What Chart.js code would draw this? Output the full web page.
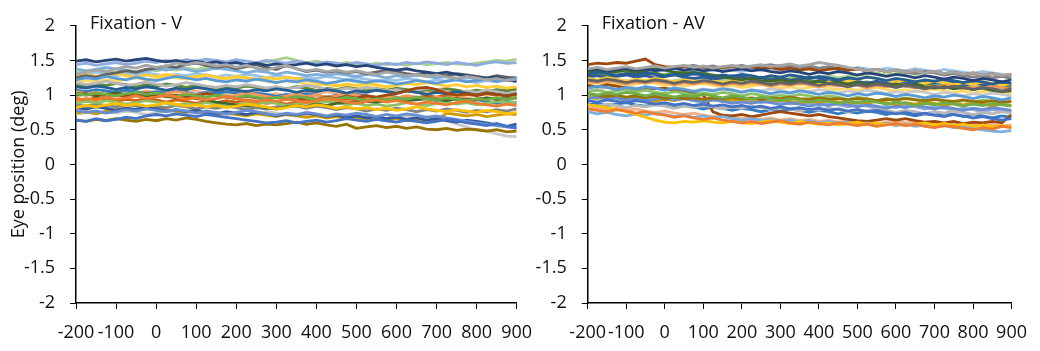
<!DOCTYPE html>
<html>
<head>
<meta charset="utf-8">
<script src="https://cdn.jsdelivr.net/npm/chart.js@4.4.1/dist/chart.umd.min.js"></script>
<style>
  html, body { margin: 0; padding: 0; background: #fff; }
  #wrap { position: relative; width: 1040px; height: 351px; overflow: hidden; }
  .box { position: absolute; top: 0; height: 351px; }
  #boxV { left: 0; width: 560px; }
  #boxAV { left: 510px; width: 530px; }
</style>
</head>
<body>
<div id="wrap">
  <div class="box" id="boxV"><canvas id="chartV"></canvas></div>
  <div class="box" id="boxAV"><canvas id="chartAV"></canvas></div>
</div>
<script>
// time axis (ms), one sample every 25 ms
const times = [-200,-175,-150,-125,-100,-75,-50,-25,0,25,50,75,100,125,150,175,200,225,250,275,300,325,350,375,400,425,450,475,500,525,550,575,600,625,650,675,700,725,750,775,800,825,850,875,900];
const xTicks = [-200,-100,0,100,200,300,400,500,600,700,800,900];
const yTicks = [-2,-1.5,-1,-0.5,0,0.5,1,1.5,2];

// Fixation - V traces (deg)
const v1 = [0.64,0.62,0.66,0.63,0.65,0.68,0.66,0.70,0.72,0.70,0.73,0.71,0.69,0.72,0.70,0.68,0.66,0.64,0.62,0.60,0.61,0.63,0.60,0.62,0.64,0.61,0.63,0.66,0.64,0.62,0.65,0.63,0.61,0.64,0.62,0.60,0.62,0.65,0.63,0.60,0.58,0.56,0.59,0.55,0.53];
const v2 = [0.92,0.95,0.93,0.97,0.94,0.96,0.99,0.95,0.97,1.00,0.97,0.94,0.96,0.93,0.95,0.98,0.95,0.92,0.90,0.93,0.91,0.94,0.92,0.89,0.92,0.95,0.93,0.90,0.88,0.91,0.93,0.90,0.92,0.89,0.87,0.90,0.88,0.86,0.89,0.91,0.88,0.86,0.84,0.87,0.85];
const v3 = [1.30,1.33,1.36,1.34,1.38,1.41,1.39,1.43,1.40,1.42,1.46,1.44,1.47,1.45,1.42,1.44,1.40,1.43,1.39,1.36,1.40,1.43,1.38,1.35,1.37,1.34,1.36,1.33,1.35,1.32,1.30,1.33,1.31,1.28,1.30,1.27,1.29,1.26,1.24,1.27,1.25,1.22,1.24,1.21,1.23];
const v4 = [0.82,0.85,0.83,0.86,0.88,0.85,0.87,0.84,0.86,0.89,0.87,0.84,0.86,0.83,0.85,0.82,0.84,0.87,0.85,0.83,0.80,0.82,0.85,0.83,0.86,0.84,0.81,0.83,0.80,0.82,0.79,0.81,0.78,0.80,0.83,0.80,0.78,0.76,0.79,0.77,0.75,0.78,0.76,0.73,0.75];
const v5 = [1.22,1.25,1.23,1.27,1.24,1.22,1.26,1.23,1.21,1.24,1.27,1.25,1.22,1.24,1.21,1.19,1.22,1.20,1.23,1.21,1.18,1.21,1.19,1.22,1.20,1.17,1.19,1.22,1.20,1.18,1.21,1.19,1.16,1.18,1.21,1.19,1.17,1.20,1.22,1.19,1.21,1.23,1.20,1.22,1.24];
const v6 = [1.02,1.00,1.03,1.01,0.99,1.02,1.04,1.01,1.03,1.00,0.98,1.01,0.99,0.97,1.00,0.98,0.96,0.99,0.97,0.94,0.97,0.95,0.98,0.96,0.93,0.96,0.94,0.97,0.95,0.92,0.95,0.93,0.96,0.94,0.97,0.95,0.93,0.96,0.94,0.92,0.95,0.93,0.96,0.94,0.97];
const v7 = [1.49,1.51,1.48,1.50,1.52,1.49,1.51,1.53,1.50,1.48,1.50,1.47,1.49,1.46,1.48,1.45,1.47,1.44,1.46,1.43,1.45,1.42,1.44,1.46,1.43,1.45,1.42,1.44,1.41,1.43,1.40,1.38,1.36,1.38,1.35,1.33,1.31,1.33,1.30,1.28,1.26,1.24,1.26,1.22,1.20];
const v8 = [1.03,1.00,1.02,0.99,1.01,0.98,1.00,1.03,1.01,0.98,1.00,0.97,0.99,1.02,1.00,0.97,0.95,0.98,0.96,0.94,0.97,0.95,0.93,0.96,0.94,0.97,0.95,0.98,0.96,0.99,0.97,1.00,1.02,1.06,1.10,1.11,1.08,1.03,1.00,1.02,1.00,1.03,1.01,0.99,1.01];
const v9 = [1.25,1.28,1.26,1.30,1.32,1.35,1.33,1.37,1.39,1.42,1.40,1.44,1.46,1.43,1.40,1.42,1.38,1.41,1.44,1.40,1.37,1.43,1.38,1.34,1.36,1.33,1.35,1.32,1.34,1.31,1.33,1.36,1.34,1.31,1.29,1.32,1.30,1.28,1.31,1.29,1.27,1.25,1.28,1.26,1.24];
const v10 = [0.64,0.62,0.65,0.63,0.66,0.64,0.62,0.65,0.63,0.66,0.64,0.67,0.65,0.62,0.60,0.58,0.57,0.59,0.56,0.58,0.57,0.59,0.61,0.58,0.60,0.57,0.55,0.58,0.52,0.54,0.56,0.53,0.55,0.52,0.54,0.51,0.50,0.52,0.49,0.51,0.50,0.48,0.50,0.47,0.48];
const v11 = [1.12,1.10,1.13,1.11,1.08,1.11,1.09,1.12,1.10,1.07,1.10,1.08,1.11,1.09,1.06,1.09,1.07,1.05,1.08,1.06,1.09,1.07,1.04,1.07,1.05,1.08,1.06,1.03,1.06,1.04,1.07,1.05,1.03,1.06,1.04,1.01,1.04,1.02,1.05,1.03,1.00,1.03,1.01,0.99,1.02];
const v12 = [1.00,1.02,0.99,1.01,1.03,1.00,1.02,0.99,1.01,0.98,0.96,0.98,0.95,0.93,0.90,0.88,0.86,0.84,0.85,0.82,0.80,0.83,0.85,0.84,0.87,0.85,0.88,0.90,0.89,0.91,0.90,0.92,0.94,0.92,0.93,0.95,0.94,0.92,0.95,0.93,0.94,0.96,0.94,0.95,0.96];
const v13 = [0.78,0.75,0.77,0.74,0.76,0.79,0.77,0.80,0.78,0.76,0.79,0.77,0.74,0.77,0.75,0.73,0.75,0.78,0.76,0.73,0.71,0.74,0.72,0.75,0.73,0.70,0.73,0.71,0.74,0.72,0.69,0.72,0.70,0.73,0.71,0.68,0.70,0.67,0.65,0.62,0.60,0.58,0.56,0.54,0.52];
const v14 = [1.05,1.02,1.04,1.01,0.99,1.02,1.00,0.97,0.99,1.02,1.05,1.03,1.00,1.02,0.99,0.97,1.00,1.03,1.01,0.98,0.96,0.99,1.01,0.98,1.00,0.97,0.99,1.02,1.00,0.97,0.95,0.98,0.96,0.99,0.97,0.94,0.97,0.95,0.98,0.96,0.93,0.96,0.94,0.97,0.95];
const v15 = [1.18,1.15,1.17,1.20,1.17,1.14,1.16,1.19,1.16,1.13,1.15,1.18,1.16,1.13,1.11,1.14,1.12,1.15,1.13,1.10,1.12,1.09,1.11,1.14,1.12,1.09,1.07,1.10,1.08,1.11,1.09,1.06,1.08,1.05,1.07,1.10,1.08,1.05,1.03,1.06,1.04,1.07,1.05,1.02,1.04];
const v16 = [1.28,1.30,1.27,1.29,1.31,1.28,1.26,1.29,1.27,1.30,1.28,1.25,1.27,1.29,1.26,1.24,1.27,1.25,1.22,1.25,1.23,1.26,1.24,1.21,1.18,1.15,1.13,1.16,1.14,1.17,1.15,1.12,1.14,1.17,1.15,1.18,1.16,1.13,1.15,1.12,1.14,1.11,1.13,1.10,1.12];
const v17 = [1.38,1.35,1.37,1.40,1.38,1.36,1.33,1.35,1.38,1.36,1.39,1.37,1.34,1.36,1.39,1.37,1.35,1.32,1.35,1.33,1.30,1.33,1.31,1.28,1.30,1.28,1.31,1.29,1.27,1.30,1.28,1.25,1.28,1.26,1.29,1.27,1.25,1.27,1.24,1.26,1.23,1.25,1.27,1.24,1.26];
const v18 = [0.88,0.91,0.89,0.92,0.90,0.87,0.89,0.92,0.90,0.88,0.85,0.88,0.86,0.89,0.87,0.84,0.86,0.89,0.87,0.90,0.88,0.85,0.87,0.90,0.88,0.91,0.89,0.86,0.88,0.85,0.87,0.84,0.86,0.89,0.87,0.85,0.88,0.90,0.87,0.89,0.86,0.88,0.91,0.89,0.90];
const v19 = [0.82,0.80,0.83,0.81,0.78,0.81,0.79,0.82,0.80,0.77,0.79,0.76,0.78,0.75,0.73,0.76,0.74,0.72,0.75,0.73,0.70,0.73,0.71,0.74,0.72,0.69,0.71,0.68,0.70,0.67,0.69,0.66,0.68,0.65,0.67,0.64,0.66,0.63,0.61,0.64,0.62,0.60,0.57,0.55,0.58];
const v20 = [0.95,0.93,0.96,0.94,0.91,0.94,0.92,0.95,0.93,0.90,0.93,0.91,0.88,0.91,0.89,0.92,0.90,0.93,0.91,0.88,0.90,0.87,0.90,0.93,0.91,0.94,0.92,0.95,0.93,0.96,0.94,0.97,0.95,0.98,0.96,0.99,0.97,1.00,0.98,1.01,0.99,1.02,1.00,1.03,1.01];
const v21 = [0.86,0.84,0.87,0.85,0.83,0.86,0.84,0.81,0.84,0.82,0.85,0.83,0.80,0.83,0.81,0.84,0.82,0.79,0.82,0.80,0.83,0.86,0.84,0.81,0.84,0.82,0.79,0.82,0.80,0.77,0.80,0.78,0.81,0.79,0.76,0.79,0.77,0.80,0.78,0.75,0.78,0.76,0.79,0.77,0.80];
const v22 = [0.74,0.76,0.73,0.77,0.79,0.81,0.78,0.80,0.82,0.79,0.77,0.75,0.77,0.74,0.72,0.74,0.72,0.70,0.73,0.71,0.69,0.72,0.70,0.68,0.70,0.67,0.69,0.66,0.68,0.65,0.67,0.64,0.66,0.63,0.65,0.62,0.64,0.74,0.72,0.70,0.72,0.69,0.71,0.73,0.72];
const v23 = [1.07,1.05,1.08,1.06,1.04,1.07,1.05,1.02,1.05,1.03,1.06,1.04,1.01,1.04,1.02,1.05,1.03,1.00,1.03,1.01,0.98,1.01,0.99,1.02,1.00,0.97,1.00,0.98,1.01,0.99,0.96,0.99,0.97,0.94,0.97,0.95,0.92,0.95,0.93,0.90,0.93,0.91,0.88,0.91,0.89];
const v24 = [1.15,1.13,1.16,1.14,1.17,1.15,1.12,1.15,1.13,1.16,1.14,1.11,1.14,1.12,1.09,1.12,1.10,1.13,1.11,1.08,1.11,1.09,1.12,1.10,1.07,1.10,1.08,1.11,1.09,1.06,1.09,1.07,1.10,1.08,1.05,1.08,1.06,1.09,1.07,1.04,1.07,1.05,1.08,1.06,1.09];
const v25 = [1.44,1.46,1.43,1.45,1.47,1.44,1.46,1.49,1.47,1.50,1.48,1.51,1.49,1.52,1.50,1.48,1.51,1.49,1.47,1.50,1.48,1.46,1.49,1.47,1.45,1.48,1.46,1.44,1.47,1.45,1.43,1.46,1.44,1.47,1.45,1.48,1.46,1.44,1.47,1.45,1.43,1.46,1.48,1.46,1.47];
const v26 = [0.98,1.01,0.99,1.02,1.04,1.01,1.03,1.06,1.04,1.07,1.05,1.08,1.06,1.03,1.05,1.02,1.04,1.06,1.03,1.00,1.02,0.99,1.01,1.04,1.02,1.05,1.03,1.00,1.02,1.05,1.08,1.06,1.09,1.07,1.04,1.06,1.08,1.10,1.07,1.05,1.07,1.04,1.06,1.09,1.07];
const v27 = [0.72,0.75,0.73,0.76,0.74,0.77,0.75,0.72,0.74,0.77,0.75,0.78,0.76,0.73,0.75,0.72,0.74,0.71,0.73,0.76,0.74,0.71,0.73,0.70,0.72,0.69,0.71,0.68,0.70,0.67,0.69,0.66,0.68,0.70,0.67,0.69,0.66,0.63,0.58,0.54,0.50,0.48,0.44,0.41,0.40];
const v28 = [1.18,1.21,1.19,1.22,1.20,1.23,1.25,1.22,1.24,1.27,1.25,1.23,1.26,1.24,1.21,1.24,1.22,1.25,1.23,1.20,1.18,1.21,1.19,1.16,1.14,1.17,1.15,1.12,1.10,1.13,1.11,1.08,1.06,1.09,1.07,1.04,1.06,1.03,1.05,1.02,1.04,1.01,0.99,1.02,1.00];
const v29 = [1.32,1.30,1.33,1.31,1.28,1.31,1.29,1.32,1.30,1.27,1.30,1.28,1.31,1.29,1.26,1.29,1.27,1.30,1.28,1.25,1.28,1.26,1.23,1.26,1.24,1.27,1.25,1.22,1.25,1.23,1.20,1.23,1.21,1.24,1.22,1.19,1.22,1.20,1.23,1.21,1.18,1.21,1.19,1.22,1.20];
const v30 = [1.36,1.34,1.37,1.35,1.33,1.36,1.34,1.37,1.35,1.38,1.36,1.39,1.37,1.40,1.38,1.41,1.39,1.42,1.45,1.48,1.51,1.54,1.50,1.47,1.49,1.46,1.44,1.47,1.45,1.43,1.46,1.44,1.45,1.43,1.46,1.44,1.45,1.47,1.45,1.44,1.46,1.48,1.50,1.49,1.52];

// Fixation - AV traces (deg)
const a1 = [0.92,0.90,0.93,0.91,0.89,0.92,0.90,0.87,0.89,0.86,0.88,0.85,0.87,0.84,0.86,0.83,0.85,0.82,0.84,0.81,0.83,0.80,0.82,0.79,0.81,0.78,0.80,0.77,0.79,0.76,0.78,0.75,0.73,0.75,0.72,0.74,0.71,0.69,0.72,0.70,0.67,0.69,0.66,0.64,0.66];
const a2 = [0.80,0.78,0.76,0.79,0.77,0.74,0.76,0.73,0.71,0.68,0.70,0.67,0.65,0.67,0.64,0.62,0.60,0.62,0.59,0.61,0.63,0.60,0.58,0.61,0.59,0.57,0.60,0.58,0.56,0.58,0.55,0.57,0.59,0.56,0.58,0.55,0.53,0.56,0.54,0.52,0.50,0.53,0.51,0.55,0.53];
const a3 = [1.38,1.40,1.37,1.39,1.41,1.38,1.40,1.42,1.39,1.41,1.43,1.40,1.42,1.39,1.41,1.43,1.40,1.42,1.44,1.41,1.43,1.45,1.42,1.44,1.47,1.45,1.43,1.40,1.38,1.35,1.37,1.34,1.36,1.33,1.35,1.32,1.34,1.31,1.33,1.30,1.32,1.29,1.31,1.28,1.30];
const a4 = [0.86,0.84,0.82,0.79,0.76,0.72,0.68,0.64,0.61,0.60,0.62,0.61,0.63,0.61,0.60,0.62,0.60,0.59,0.61,0.63,0.61,0.59,0.62,0.60,0.58,0.60,0.57,0.59,0.61,0.58,0.60,0.57,0.59,0.56,0.58,0.60,0.57,0.59,0.56,0.58,0.55,0.57,0.54,0.56,0.55];
const a5 = [1.10,1.13,1.11,1.08,1.11,1.09,1.12,1.10,1.07,1.10,1.08,1.05,1.08,1.06,1.09,1.07,1.04,1.07,1.05,1.02,1.05,1.03,1.06,1.04,1.01,1.04,1.02,0.99,1.02,1.00,1.03,1.01,0.98,1.01,0.99,0.96,0.99,0.97,1.00,0.98,0.95,0.98,0.96,0.93,0.96];
const a6 = [1.02,1.00,1.03,1.01,1.04,1.02,0.99,1.02,1.00,0.97,1.00,0.98,1.01,0.99,0.96,0.99,0.97,0.94,0.97,0.95,0.92,0.95,0.93,0.90,0.93,0.91,0.88,0.91,0.89,0.92,0.90,0.87,0.90,0.88,0.85,0.88,0.86,0.89,0.87,0.84,0.87,0.85,0.88,0.86,0.84];
const a7 = [1.36,1.38,1.35,1.37,1.39,1.36,1.38,1.35,1.37,1.39,1.36,1.38,1.35,1.37,1.34,1.36,1.38,1.35,1.37,1.34,1.32,1.35,1.33,1.30,1.33,1.31,1.34,1.32,1.29,1.32,1.30,1.27,1.30,1.28,1.25,1.28,1.26,1.23,1.26,1.24,1.21,1.24,1.22,1.19,1.22];
const a8 = [1.44,1.46,1.45,1.47,1.46,1.49,1.52,1.44,1.41,1.40,1.42,1.39,1.41,1.38,1.40,1.42,1.39,1.41,1.38,1.40,1.37,1.39,1.36,1.38,1.35,1.37,1.39,1.36,1.38,1.35,1.37,1.34,1.36,1.33,1.35,1.32,1.34,1.31,1.33,1.30,1.32,1.29,1.31,1.28,1.30];
const a9 = [1.22,1.20,1.23,1.21,1.18,1.21,1.19,1.22,1.20,1.17,1.20,1.18,1.21,1.19,1.16,1.19,1.17,1.20,1.18,1.15,1.18,1.16,1.19,1.17,1.14,1.17,1.15,1.12,1.15,1.13,1.16,1.14,1.11,1.14,1.12,1.09,1.12,1.10,1.13,1.11,1.08,1.11,1.09,1.06,1.09];
const a10 = [1.02,1.00,0.98,1.00,0.97,0.99,0.96,0.98,0.95,0.97,0.95,0.96,0.94,0.96,0.95,0.97,0.95,0.96,0.94,0.96,0.95,0.97,0.95,0.94,0.96,0.94,0.95,0.93,0.95,0.94,0.92,0.94,0.93,0.95,0.93,0.92,0.94,0.92,0.91,0.93,0.91,0.90,0.92,0.90,0.91];
const a11 = [1.30,1.33,1.31,1.28,1.31,1.29,1.32,1.30,1.27,1.30,1.28,1.31,1.29,1.26,1.29,1.27,1.30,1.28,1.25,1.28,1.26,1.29,1.27,1.24,1.27,1.25,1.22,1.25,1.23,1.26,1.24,1.21,1.24,1.22,1.19,1.22,1.20,1.23,1.21,1.18,1.21,1.19,1.16,1.19,1.17];
const a12 = [1.33,1.35,1.32,1.34,1.36,1.33,1.35,1.38,1.36,1.33,1.31,1.33,1.30,1.28,1.26,1.24,1.22,1.24,1.21,1.20,1.22,1.19,1.21,1.18,1.20,1.17,1.19,1.16,1.18,1.15,1.17,1.14,1.16,1.13,1.15,1.12,1.10,1.12,1.09,1.11,1.08,1.10,1.07,1.05,1.06];
const a13 = [0.95,0.97,0.94,0.96,0.93,0.95,0.92,0.94,0.96,0.93,0.95,0.92,0.90,0.93,0.91,0.88,0.90,0.88,0.91,0.89,0.86,0.89,0.87,0.84,0.87,0.85,0.88,0.86,0.83,0.86,0.84,0.81,0.84,0.82,0.85,0.83,0.80,0.83,0.81,0.78,0.81,0.79,0.82,0.80,0.78];
const a14 = [1.20,1.18,1.21,1.19,1.16,1.19,1.17,1.20,1.18,1.15,1.18,1.16,1.19,1.17,1.14,1.17,1.15,1.18,1.16,1.13,1.16,1.14,1.17,1.15,1.12,1.15,1.13,1.16,1.14,1.11,1.14,1.12,1.15,1.13,1.10,1.13,1.11,1.14,1.12,1.09,1.12,1.10,1.13,1.11,1.08];
const a15 = [0.86,0.84,0.87,0.85,0.82,0.85,0.83,0.86,0.84,0.81,0.84,0.82,0.85,0.83,0.80,0.83,0.81,0.84,0.82,0.79,0.82,0.80,0.77,0.80,0.78,0.81,0.79,0.76,0.79,0.77,0.80,0.78,0.75,0.78,0.76,0.73,0.76,0.74,0.77,0.75,0.72,0.75,0.73,0.76,0.74];
const a16 = [1.24,1.22,1.25,1.23,1.20,1.23,1.21,1.24,1.22,1.19,1.22,1.20,1.17,1.20,1.18,1.21,1.19,1.16,1.19,1.17,1.20,1.18,1.15,1.18,1.16,1.19,1.17,1.20,1.23,1.26,1.24,1.21,1.19,1.22,1.20,1.17,1.20,1.18,1.15,1.18,1.16,1.19,1.17,1.14,1.17];
const a17 = [0.76,0.73,0.75,0.72,0.70,0.73,0.71,0.74,0.72,0.69,0.71,0.68,0.70,0.67,0.69,0.66,0.64,0.66,0.63,0.65,0.62,0.64,0.61,0.63,0.60,0.62,0.59,0.61,0.58,0.60,0.57,0.59,0.56,0.58,0.55,0.57,0.54,0.56,0.53,0.55,0.52,0.50,0.48,0.47,0.49];
const a18 = [1.05,1.07,1.04,1.06,1.08,1.05,1.07,1.04,1.02,1.05,1.03,1.00,1.03,1.01,1.04,1.02,0.99,1.02,1.00,0.97,1.00,0.98,1.01,0.99,0.96,0.99,0.97,0.94,0.97,0.95,0.92,0.95,0.93,0.96,0.94,0.91,0.94,0.92,0.89,0.92,0.90,0.93,0.91,0.88,0.91];
const a19 = [1.26,1.28,1.25,1.27,1.29,1.26,1.28,1.25,1.27,1.29,1.26,1.24,1.26,1.23,1.25,1.28,1.26,1.23,1.25,1.22,1.24,1.21,1.23,1.26,1.24,1.21,1.19,1.22,1.20,1.17,1.20,1.18,1.21,1.19,1.16,1.19,1.17,1.20,1.18,1.15,1.18,1.16,1.13,1.16,1.14];
const a20 = [1.14,1.12,1.15,1.13,1.10,1.08,1.11,1.09,1.10,1.07,1.05,1.03,1.00,0.76,0.71,0.70,0.72,0.69,0.71,0.74,0.76,0.74,0.72,0.70,0.72,0.69,0.67,0.65,0.63,0.62,0.64,0.66,0.64,0.66,0.63,0.61,0.62,0.60,0.62,0.59,0.61,0.60,0.62,0.60,0.72];
const a21 = [1.35,1.37,1.34,1.36,1.38,1.36,1.39,1.37,1.40,1.38,1.41,1.43,1.40,1.42,1.39,1.41,1.43,1.40,1.42,1.44,1.41,1.43,1.40,1.42,1.39,1.41,1.38,1.36,1.38,1.35,1.37,1.34,1.36,1.33,1.31,1.34,1.32,1.29,1.31,1.28,1.26,1.28,1.25,1.27,1.24];
const a22 = [0.97,0.95,0.98,0.96,0.93,0.96,0.94,0.91,0.94,0.92,0.95,0.93,0.90,0.93,0.91,0.94,0.92,0.89,0.92,0.90,0.93,0.91,0.88,0.91,0.89,0.92,0.90,0.87,0.90,0.88,0.91,0.89,0.86,0.89,0.87,0.90,0.88,0.85,0.88,0.86,0.89,0.87,0.84,0.87,0.85];
const a23 = [0.86,0.88,0.85,0.87,0.89,0.86,0.84,0.87,0.85,0.82,0.85,0.83,0.80,0.83,0.81,0.78,0.81,0.79,0.76,0.79,0.77,0.80,0.78,0.75,0.78,0.76,0.73,0.76,0.74,0.77,0.75,0.72,0.75,0.73,0.70,0.73,0.71,0.74,0.72,0.69,0.72,0.70,0.67,0.70,0.68];
const a24 = [1.28,1.30,1.27,1.29,1.31,1.33,1.30,1.32,1.29,1.31,1.33,1.30,1.32,1.29,1.27,1.25,1.27,1.24,1.26,1.23,1.25,1.22,1.24,1.21,1.19,1.21,1.18,1.20,1.17,1.19,1.16,1.18,1.15,1.17,1.14,1.16,1.13,1.15,1.12,1.14,1.11,1.13,1.10,1.12,1.10];
const a25 = [1.00,0.98,1.01,0.99,0.96,0.99,0.97,1.00,0.98,0.95,0.98,0.96,0.93,0.96,0.94,0.91,0.94,0.92,0.89,0.92,0.90,0.87,0.90,0.88,0.85,0.88,0.86,0.83,0.86,0.84,0.81,0.84,0.82,0.85,0.83,0.80,0.83,0.81,0.78,0.81,0.79,0.76,0.79,0.77,0.75];
const a26 = [0.80,0.82,0.79,0.81,0.78,0.80,0.77,0.75,0.77,0.74,0.72,0.74,0.71,0.69,0.71,0.68,0.66,0.68,0.65,0.67,0.64,0.66,0.63,0.65,0.62,0.64,0.61,0.63,0.60,0.62,0.59,0.61,0.63,0.60,0.62,0.59,0.61,0.58,0.60,0.57,0.59,0.56,0.58,0.55,0.57];
const a27 = [1.10,1.08,1.11,1.09,1.12,1.10,1.07,1.10,1.08,1.11,1.09,1.06,1.09,1.07,1.10,1.08,1.05,1.08,1.06,1.09,1.07,1.04,1.07,1.05,1.08,1.06,1.03,1.06,1.04,1.07,1.05,1.02,1.05,1.03,1.06,1.04,1.01,1.04,1.02,0.99,1.02,1.00,1.03,1.01,0.99];
const a28 = [1.16,1.18,1.15,1.17,1.14,1.16,1.19,1.17,1.14,1.16,1.13,1.15,1.17,1.14,1.12,1.14,1.11,1.13,1.15,1.12,1.10,1.12,1.09,1.11,1.13,1.10,1.08,1.10,1.07,1.09,1.11,1.08,1.06,1.08,1.05,1.07,1.09,1.06,1.04,1.06,1.03,1.05,1.07,1.04,1.02];
const a29 = [1.32,1.34,1.31,1.33,1.35,1.32,1.34,1.37,1.35,1.33,1.36,1.34,1.37,1.35,1.38,1.36,1.34,1.37,1.35,1.38,1.36,1.39,1.37,1.40,1.38,1.41,1.39,1.37,1.40,1.38,1.36,1.39,1.37,1.35,1.38,1.36,1.34,1.37,1.35,1.33,1.31,1.34,1.32,1.30,1.28];
const a30 = [1.18,1.20,1.17,1.19,1.21,1.18,1.20,1.22,1.19,1.21,1.23,1.20,1.22,1.24,1.21,1.23,1.25,1.22,1.24,1.26,1.23,1.25,1.27,1.24,1.26,1.28,1.25,1.27,1.29,1.30,1.32,1.29,1.31,1.33,1.30,1.32,1.34,1.31,1.33,1.30,1.32,1.29,1.31,1.28,1.27];

const vSeries = [v1,v2,v3,v4,v5,v6,v7,v8,v9,v10,v11,v12,v13,v14,v15,v16,v17,v18,v19,v20,v21,v22,v23,v24,v25,v26,v27,v28,v29,v30];
const avSeries = [a1,a2,a3,a4,a5,a6,a7,a8,a9,a10,a11,a12,a13,a14,a15,a16,a17,a18,a19,a20,a21,a22,a23,a24,a25,a26,a27,a28,a29,a30];

// office-style series colours
const palette = ['#4472C4','#ED7D31','#A5A5A5','#FFC000','#5B9BD5','#70AD47','#264478','#9E480E','#636363','#997300',
                 '#255E91','#43682B','#698ED0','#F1975A','#B7B7B7','#FFCD33','#7CAFDD','#8CC168','#335AA1','#D26012',
                 '#848484','#CC9A00','#327DC2','#5A8A39','#8FAADC','#F4B183','#C9C9C9','#FFD966','#9DC3E6','#A9D18E'];
const avPalette = palette.slice();
avPalette[19] = '#9E480E';

const FONT = '"Open Sans", "Liberation Sans", sans-serif';

function panelTitle(text) {
  return {
    id: 'panelTitle',
    afterDraw(chart) {
      const ctx = chart.ctx;
      ctx.save();
      ctx.font = '18px ' + FONT;
      ctx.fillStyle = '#111';
      ctx.textBaseline = 'alphabetic';
      ctx.fillText(text, chart.chartArea.left + 14, 29);
      ctx.restore();
    }
  };
}

function makeChart(id, series, colors, title, yWidth, padRight, showYTitle) {
  const datasets = series.map((vals, i) => ({
    data: vals.map((y, j) => ({ x: times[j], y: y })),
    borderColor: colors[i],
    borderWidth: 2.8,
    pointRadius: 0,
    tension: 0,
    fill: false
  }));
  return new Chart(document.getElementById(id), {
    type: 'line',
    data: { datasets },
    options: {
      responsive: true,
      maintainAspectRatio: false,
      animation: false,
      events: [],
      layout: { padding: { top: 14, right: padRight, left: 0, bottom: 0 } },
      plugins: { legend: { display: false }, tooltip: { enabled: false } },
      scales: {
        x: {
          type: 'linear',
          min: -200, max: 900,
          afterBuildTicks(scale) { scale.ticks = xTicks.map(v => ({ value: v })); },
          afterFit(scale) { scale.height = 48; },
          grid: { drawOnChartArea: false, tickLength: 6, color: '#000', lineWidth: 1 },
          border: { color: '#000', width: 1.5 },
          ticks: { autoSkip: false, maxRotation: 0, minRotation: 0, padding: 13,
                   callback: v => String(v),
                   color: '#111', font: { family: FONT, size: 18 } }
        },
        y: {
          min: -2, max: 2,
          afterBuildTicks(scale) { scale.ticks = yTicks.map(v => ({ value: v })); },
          afterFit(scale) { scale.width = yWidth; },
          grid: { drawOnChartArea: false, tickLength: 6, color: '#000', lineWidth: 1 },
          border: { color: '#000', width: 1.5 },
          ticks: { padding: 15, callback: v => String(v),
                   color: '#111', font: { family: FONT, size: 18 } },
          title: { display: showYTitle, text: 'Eye position (deg)', color: '#111',
                   padding: { top: 8, bottom: 0 }, font: { family: FONT, size: 18 } }
        }
      }
    },
    plugins: [panelTitle(title)]
  });
}

makeChart('chartV', vSeries, palette, 'Fixation - V', 76, 43.3, true);
makeChart('chartAV', avSeries, avPalette, 'Fixation - AV', 77.7, 23.3, false);
</script>
</body>
</html>
